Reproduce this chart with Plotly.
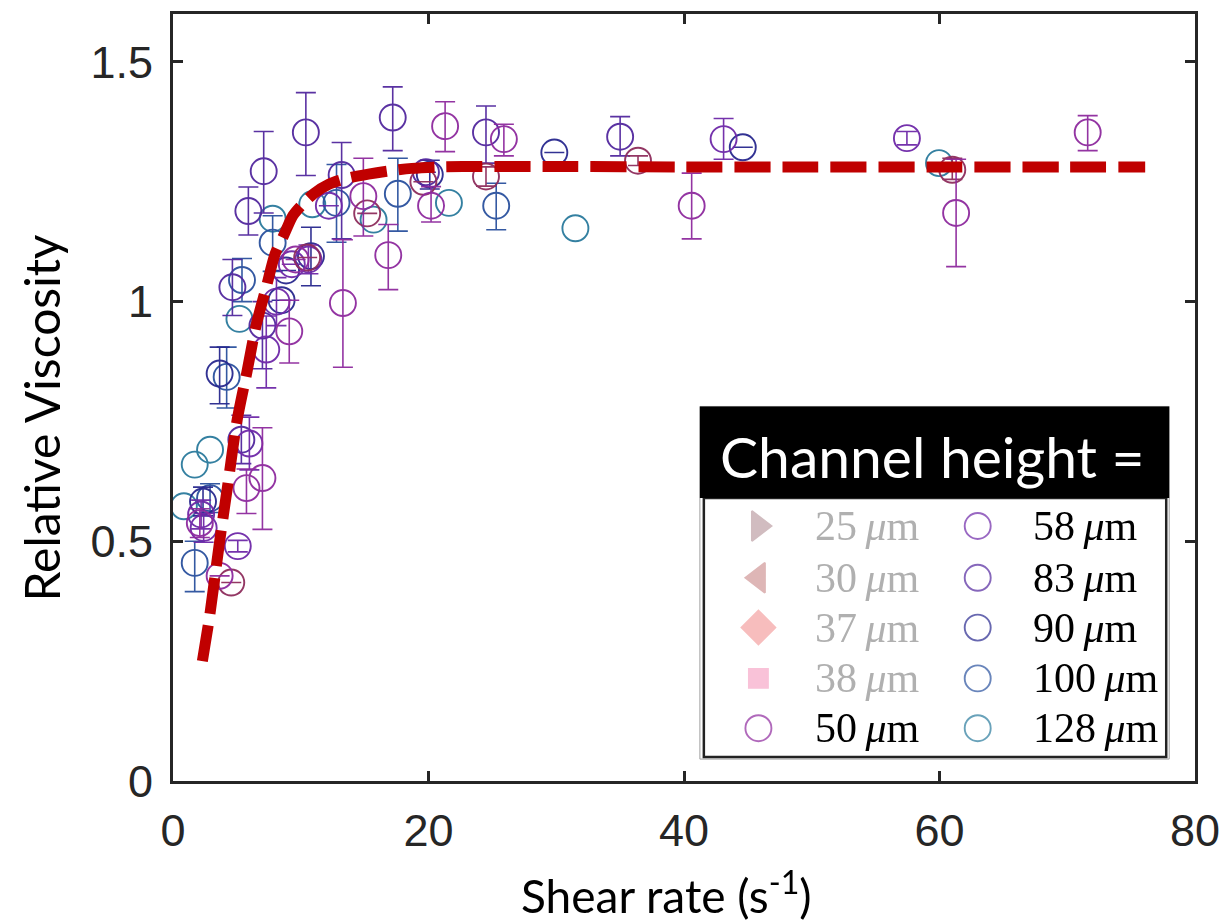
import plotly.graph_objects as go

# ---- measured relative viscosity vs shear rate, per channel height ----
# each series: shear rate, relative viscosity, error up, error down
x_50 = [71.6, 40.6, 61.3, 21.3, 25.9, 20.2, 16.85, 14.9, 13.3, 9.1, 9.6, 7.0, 5.75, 3.65, 2.1]
y_50 = [1.353, 1.200, 1.185, 1.366, 1.339, 1.200, 1.097, 1.220, 0.997, 0.938, 1.088, 0.632, 0.611, 0.428, 0.538]
ep_50 = [0.035, 0.068, 0.112, 0.051, 0.031, 0.040, 0.064, 0.079, 0.132, 0.065, 0.0, 0.105, 0.040, 0.0, 0.030]
em_50 = [0.038, 0.069, 0.112, 0.053, 0.035, 0.034, 0.072, 0.083, 0.134, 0.066, 0.0, 0.107, 0.053, 0.0, 0.030]

x_58 = [57.45, 43.1, 12.2, 10.6, 9.3, 8.1, 5.98, 5.07, 2.2, 2.4, 7.3]
y_58 = [1.341, 1.339, 1.200, 1.088, 1.078, 1.000, 0.704, 0.490, 0.556, 0.528, 0.900]
ep_58 = [0.014, 0.043, 0.0, 0.030, 0.0, 0.050, 0.055, 0.012, 0.030, 0.030, 0.070]
em_58 = [0.014, 0.042, 0.0, 0.030, 0.0, 0.050, 0.055, 0.012, 0.030, 0.030, 0.080]

x_83 = [10.4, 17.2, 24.5, 35.0, 7.1, 5.9, 13.2, 19.8, 4.65, 5.35, 7.0]
y_83 = [1.353, 1.384, 1.353, 1.344, 1.272, 1.189, 1.264, 1.270, 1.030, 0.712, 0.950]
ep_83 = [0.083, 0.064, 0.055, 0.042, 0.083, 0.050, 0.068, 0.0, 0.058, 0.051, 0.050]
em_83 = [0.090, 0.069, 0.064, 0.040, 0.087, 0.050, 0.133, 0.0, 0.059, 0.050, 0.090]

x_90 = [29.85, 44.6, 20.1, 10.8, 3.65, 2.35, 8.85, 8.5]
y_90 = [1.311, 1.322, 1.265, 1.095, 0.850, 0.583, 1.065, 1.003]
ep_90 = [0.0, 0.0, 0.030, 0.060, 0.055, 0.030, 0.0, 0.0]
em_90 = [0.0, 0.0, 0.030, 0.062, 0.063, 0.030, 0.0, 0.0]

x_100 = [25.3, 17.6, 12.8, 7.8, 5.4, 4.2, 2.9, 1.7]
y_100 = [1.200, 1.225, 1.206, 1.123, 1.045, 0.843, 0.590, 0.455]
ep_100 = [0.047, 0.074, 0.080, 0.056, 0.045, 0.062, 0.030, 0.045]
em_100 = [0.050, 0.078, 0.082, 0.060, 0.045, 0.065, 0.030, 0.060]

x_128 = [59.96, 31.5, 21.6, 15.7, 10.9, 7.8, 5.2, 2.9, 1.7, 0.85]
y_128 = [1.289, 1.153, 1.206, 1.171, 1.203, 1.173, 0.964, 0.691, 0.660, 0.573]

x_extra = [61.0, 36.4, 24.5, 19.6, 15.2, 10.5, 4.56]
y_extra = [1.275, 1.294, 1.261, 1.250, 1.184, 1.092, 0.414]
ep_extra = [0.024, 0.010, 0.020, 0.0, 0.0, 0.0, 0.0]
em_extra = [0.020, 0.010, 0.020, 0.0, 0.0, 0.0, 0.0]

# fitted trend (dashed red)
fit_x = [2.3, 2.9, 3.6, 4.3, 5.0, 5.8, 6.5, 7.3, 8.0, 8.7, 9.4, 10.2, 11.0, 12.2, 13.6,
         15.3, 17.0, 18.7, 21.0, 23.8, 30.0, 40.0, 50.0, 60.0, 70.0, 76.1]
fit_y = [0.25, 0.35, 0.49, 0.62, 0.75, 0.855, 0.95, 1.03, 1.10, 1.14, 1.18, 1.205, 1.225,
         1.245, 1.257, 1.266, 1.273, 1.278, 1.281, 1.282, 1.282, 1.281, 1.281, 1.281, 1.281, 1.281]

# legend content
legend_labels_left = ["25", "30", "37", "38", "50"]
legend_labels_right = ["58", "83", "90", "100", "128"]

col_50 = "#8E2A9E"
col_58 = "#6E28A8"
col_83 = "#52279E"
col_90 = "#28288E"
col_100 = "#2A519E"
col_128 = "#2A7A9C"
col_extra = "#8E2D5C"

AX = "#262626"

fig = go.Figure()


def add_series(x, y, color, ep=None, em=None):
    err = None
    if ep is not None:
        err = dict(type="data", array=ep, arrayminus=em, visible=True,
                   color=color, thickness=1.6, width=10)
    fig.add_trace(go.Scatter(
        x=x, y=y, mode="markers",
        marker=dict(symbol="circle-open", size=26, color=color,
                    line=dict(width=1.9, color=color)),
        opacity=0.95, error_y=err, showlegend=False, hoverinfo="skip"))


add_series(x_128, y_128, col_128)
add_series(x_100, y_100, col_100, ep_100, em_100)
add_series(x_90, y_90, col_90, ep_90, em_90)
add_series(x_83, y_83, col_83, ep_83, em_83)
add_series(x_58, y_58, col_58, ep_58, em_58)
add_series(x_extra, y_extra, col_extra, ep_extra, em_extra)
add_series(x_50, y_50, col_50, ep_50, em_50)

fig.add_trace(go.Scatter(
    x=fit_x, y=fit_y, mode="lines",
    line=dict(color="#C00000", width=11, dash="36px,12px", shape="spline", smoothing=0.8),
    showlegend=False, hoverinfo="skip"))

# ---- page geometry (pixels) ----
W, H = 1231, 923
L, R, T, B = 173, 28, 11, 142
PW, PH = W - L - R, H - T - B


def px(xp):
    return (xp - L) / PW


def py(yp):
    return (H - B - yp) / PH


# ---- custom legend: overlay axes in paper units for the symbols ----
row_y = [525, 577, 627, 678, 728]
left_sym_x, left_txt_x = 763, 818
right_sym_x, right_txt_x = 984, 1038

left_syms = ["triangle-right", "triangle-left", "diamond", "square", "circle-open"]
left_cols = ["#BEA0A5", "#D09898", "#F4A2A2", "#F7A8C8", col_50]
left_sizes = [26, 26, 26, 19, 26]
right_cols = [col_58, col_83, col_90, col_100, col_128]

fig.add_trace(go.Scatter(
    x=[px(left_sym_x)] * 5 + [px(right_sym_x)] * 5,
    y=[py(v) for v in row_y] * 2,
    xaxis="x2", yaxis="y2", mode="markers",
    marker=dict(symbol=left_syms + ["circle-open"] * 5,
                size=left_sizes + [26] * 5,
                color=left_cols + right_cols,
                line=dict(width=1.9, color=left_cols + right_cols)),
    showlegend=False, hoverinfo="skip"))

shapes = [
    dict(type="rect", xref="paper", yref="paper", layer="below",
         x0=px(704), x1=px(1177), y0=py(759), y1=py(405),
         line=dict(color="#A0A0A0", width=1), fillcolor="white"),
    dict(type="rect", xref="paper", yref="paper", layer="below",
         x0=px(708), x1=px(1174), y0=py(757), y1=py(497),
         line=dict(color="#222222", width=2.5), fillcolor="white"),
    dict(type="rect", xref="paper", yref="paper", layer="below",
         x0=px(704), x1=px(1177), y0=py(497), y1=py(405),
         line=dict(width=0), fillcolor="black"),
]

annotations = [
    dict(text="Channel height =", xref="paper", yref="paper", x=px(722), y=py(455),
         xanchor="left", yanchor="middle", showarrow=False,
         font=dict(family="Lato", size=57, color="white")),
    dict(text="Relative Viscosity", xref="paper", yref="paper", x=px(40), y=py(417),
         xanchor="center", yanchor="middle", textangle=-90, showarrow=False,
         font=dict(family="Lato", size=48, color="black")),
    dict(text="Shear rate (s<sup>-1</sup>)", xref="paper", yref="paper", x=px(670), y=py(893),
         xanchor="center", yanchor="middle", showarrow=False,
         font=dict(family="Lato", size=46, color="black")),
]

for i, lab in enumerate(legend_labels_left):
    annotations.append(dict(
        text=f"{lab}\u2009<i>\u03bc</i>m", xref="paper", yref="paper",
        x=px(left_txt_x), y=py(row_y[i]), xanchor="left", yanchor="middle",
        showarrow=False,
        font=dict(family="Liberation Serif", size=42,
                  color="#B0B0B0" if i < 4 else "black")))
for i, lab in enumerate(legend_labels_right):
    annotations.append(dict(
        text=f"{lab}\u2009<i>\u03bc</i>m", xref="paper", yref="paper",
        x=px(right_txt_x), y=py(row_y[i]), xanchor="left", yanchor="middle",
        showarrow=False, font=dict(family="Liberation Serif", size=42, color="black")))

tickfont = dict(family="Liberation Sans, Arial", size=45, color=AX)

fig.update_layout(
    width=W, height=H,
    margin=dict(l=L, r=R, t=T, b=B),
    paper_bgcolor="white", plot_bgcolor="white",
    showlegend=False,
    xaxis=dict(range=[0, 80], tickvals=[0, 20, 40, 60, 80], showgrid=False, zeroline=False,
               showline=True, linecolor=AX, linewidth=3, mirror="ticks",
               ticks="inside", ticklen=10, tickwidth=2.5, tickcolor=AX,
               tickfont=tickfont, ticklabelstandoff=8),
    yaxis=dict(range=[0, 1.6], tickvals=[0, 0.5, 1, 1.5], ticktext=["0", "0.5", "1", "1.5"],
               showgrid=False, zeroline=False,
               showline=True, linecolor=AX, linewidth=3, mirror="ticks",
               ticks="inside", ticklen=10, tickwidth=2.5, tickcolor=AX,
               tickfont=tickfont, ticklabelstandoff=8),
    xaxis2=dict(range=[0, 1], overlaying="x", visible=False, domain=[0, 1]),
    yaxis2=dict(range=[0, 1], overlaying="y", visible=False),
    shapes=shapes,
    annotations=annotations,
)

fig.write_html("out.html")
